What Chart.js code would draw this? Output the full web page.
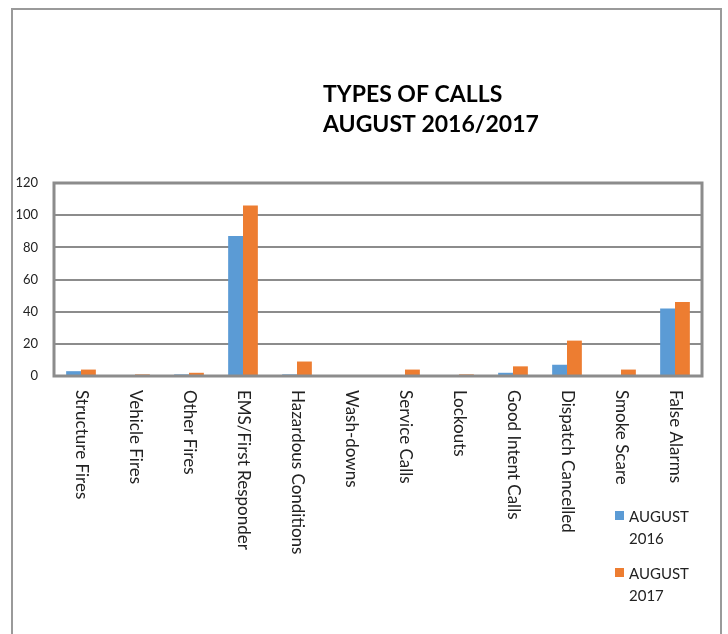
<!DOCTYPE html>
<html>
<head>
<meta charset="utf-8">
<script src="https://cdn.jsdelivr.net/npm/chart.js@4"></script>
<style>
  html, body { margin: 0; padding: 0; background: #fff; overflow: hidden; }
  #frame {
    position: absolute; left: 11px; top: 8px; width: 711px; height: 700px;
    border: 2px solid #9a9a9a; box-sizing: border-box;
  }
  #wrap { position: absolute; left: 0; top: 0; width: 728px; height: 634px; }
</style>
</head>
<body>
<div id="frame"></div>
<div id="wrap"><canvas id="myChart" width="728" height="634"></canvas></div>
<script>
const categories = ['Structure Fires', 'Vehicle Fires', 'Other Fires', 'EMS/First Responder',
  'Hazardous Conditions', 'Wash-downs', 'Service Calls', 'Lockouts', 'Good Intent Calls',
  'Dispatch Cancelled', 'Smoke Scare', 'False Alarms'];
const aug2016 = [3, 0, 1, 87, 1, 0, 0, 0, 2, 7, 0, 42];
const aug2017 = [4, 1, 2, 106, 9, 0, 4, 1, 6, 22, 4, 46];
const yTicks = [0, 20, 40, 60, 80, 100, 120];
const titleLines = ['TYPES OF CALLS', 'AUGUST 2016/2017'];
const legendLabels = [['AUGUST', '2016'], ['AUGUST', '2017']];

const FONT = 'Lato, "Liberation Sans", sans-serif';

const extras = {
  id: 'extras',
  afterDraw(chart) {
    const c = chart.ctx;
    const area = chart.chartArea;
    const x = chart.scales.x;
    c.save();

    // plot frame
    c.strokeStyle = '#8c8c8c';
    c.lineWidth = 3;
    c.strokeRect(area.left, area.top, area.right - area.left, area.bottom - area.top);

    // title
    c.fillStyle = '#000';
    c.font = 'bold 23px ' + FONT;
    c.textAlign = 'left';
    c.textBaseline = 'alphabetic';
    c.fillText(titleLines[0], 323, 102);
    c.fillText(titleLines[1], 323, 132);

    // category labels, rotated clockwise
    c.font = '17px ' + FONT;
    c.fillStyle = '#222';
    categories.forEach(function(label, i) {
      const px = x.getPixelForTick(i);
      c.save();
      c.translate(px, 390);
      c.rotate(Math.PI / 2);
      c.textAlign = 'left';
      c.textBaseline = 'middle';
      c.fillText(label, 0, 0);
      c.restore();
    });

    // legend
    c.font = '15px ' + FONT;
    const ys = [511, 568];
    chart.data.datasets.forEach(function(ds, i) {
      c.fillStyle = ds.backgroundColor;
      c.fillRect(615, ys[i], 9, 9);
      c.fillStyle = '#222';
      c.fillText(legendLabels[i][0], 629, ys[i] + 11);
      c.fillText(legendLabels[i][1], 629, ys[i] + 33);
    });
    c.restore();
  }
};

new Chart(document.getElementById('myChart'), {
  type: 'bar',
  data: {
    labels: categories,
    datasets: [{
      label: 'AUGUST 2016',
      data: aug2016,
      backgroundColor: '#5B9BD5',
      categoryPercentage: 0.55,
      barPercentage: 1
    },
    {
      label: 'AUGUST 2017',
      data: aug2017,
      backgroundColor: '#ED7D31',
      categoryPercentage: 0.55,
      barPercentage: 1
    }]
  },
  options: {
    responsive: false,
    animation: false,
    layout: { padding: { top: 183, bottom: 258, right: 26, left: 0 } },
    plugins: {
      legend: { display: false },
      title: { display: false },
      tooltip: { enabled: false }
    },
    scales: {
      x: {
        afterFit: function(scale) { scale.height = 0; },
        grid: { display: false },
        border: { display: false },
        ticks: { display: false }
      },
      y: {
        min: 0,
        max: 120,
        afterFit: function(scale) { scale.width = 54; },
        afterBuildTicks: function(scale) { scale.ticks = yTicks.map(function(v) { return { value: v }; }); },
        grid: { color: '#8c8c8c', lineWidth: 2, drawTicks: false },
        border: { display: false },
        ticks: { color: '#222', font: { family: FONT, size: 13 }, padding: 16 }
      }
    }
  },
  plugins: [extras]
});
</script>
</body>
</html>
